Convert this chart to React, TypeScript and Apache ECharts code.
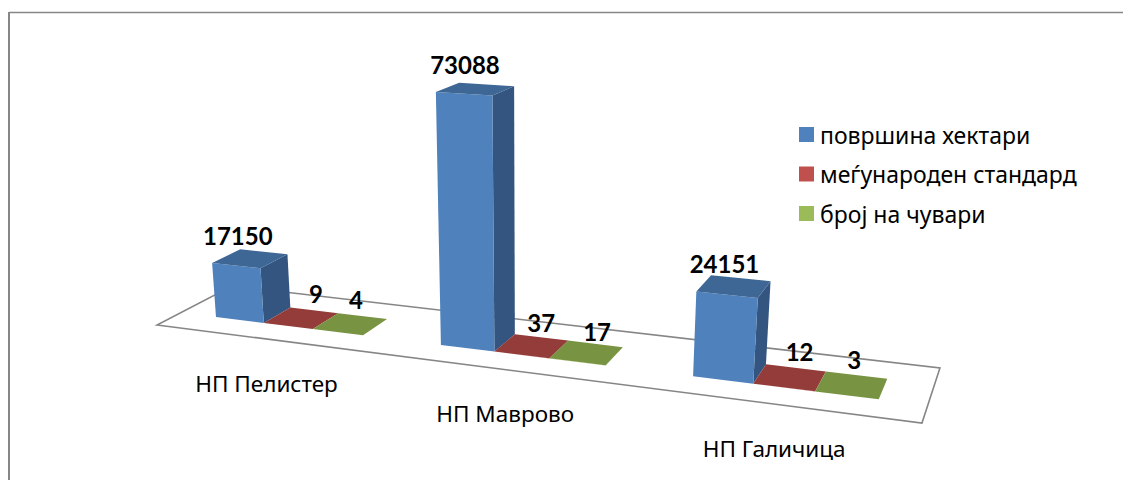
import React, { useEffect, useRef } from "react";
import * as echarts from "echarts";

const categories = ["НП Пелистер", "НП Маврово", "НП Галичица"];
const seriesNames = ["површина хектари", "меѓународен стандард", "број на чувари"];
const area = [17150, 73088, 24151];
const standard = [9, 37, 12];
const guards = [4, 17, 3];
const seriesValues = [area, standard, guards];

const Y_MAX = 80000;

// Face colours of each series: front, top, side.
const faces = [
  { front: "#4F81BD", top: "#3E6795", side: "#33557F" },
  { front: "#C0504D", top: "#933C39", side: "#7A302E" },
  { front: "#9BBB59", top: "#789442", side: "#62783A" },
];

// Projective camera for the skewed chart floor: (u, v) run over the floor, z goes up.
const CAM = {
  a: 613.2, b: 94.65, c: 157,
  d: 28.4, e: -14.8, f: 325,
  g: -0.1646, h: 0.0847,
  i: -0.058, j: -30.6, k: -271.5,
};
function project(u: number, v: number, z: number): number[] {
  const w = CAM.g * u + CAM.h * v + 1 + CAM.i * z;
  return [
    (CAM.a * u + CAM.b * v + CAM.c + CAM.j * z) / w,
    (CAM.d * u + CAM.e * v + CAM.f + CAM.k * z) / w,
  ];
}

const V_FRONT = 0.3;
const V_BACK = 0.68;
const BAR_SHARE = 0.2221; // the three bars' share of the band

// Label nudges from the top-face centre, [series][category].
const labelNudge = [
  [[-12, -23], [-10, -25], [-9, -23]],
  [[15, -25], [10, -24], [10, -26]],
  [[6, -25], [11, -21], [3, -26]],
];
const CAT_LABEL_DROP = 44;
const TEXT_FONT = "Noto Sans";
const NUM_FONT = "Lato";

function makeRenderer(si: number) {
  return (params: any, api: any) => {
    const cat = api.value(0);
    const val = api.value(1);
    const g = params.coordSys;
    const band = api.size([1, 0])[0];
    const cx = api.coord([cat, 0])[0];
    const base = api.coord([cat, 0])[1];
    const z = (base - api.coord([cat, val])[1]) / (base - api.coord([cat, Y_MAX])[1]);
    const bw = (band * BAR_SHARE * 3) / 3 / g.width;
    const uc = (cx - g.x) / g.width;
    const u0 = uc - (bw * 3) / 2 + si * bw;
    const u1 = u0 + bw;
    const fl0 = project(u0, V_FRONT, 0), fr0 = project(u1, V_FRONT, 0), br0 = project(u1, V_BACK, 0);
    const fl = project(u0, V_FRONT, z), fr = project(u1, V_FRONT, z), br = project(u1, V_BACK, z), bl = project(u0, V_BACK, z);
    const c = faces[si];
    const children: any[] = [
      { type: "polygon", shape: { points: [fr0, br0, br, fr] }, style: { fill: c.side } },
      { type: "polygon", shape: { points: [fl0, fr0, fr, fl] }, style: { fill: c.front } },
      { type: "polygon", shape: { points: [fl, fr, br, bl] }, style: { fill: c.top } },
    ];
    const n = labelNudge[si][cat];
    children.push({
      type: "text",
      style: {
        x: (fl[0] + br[0]) / 2 + n[0],
        y: (fl[1] + br[1]) / 2 + n[1],
        text: String(val),
        fill: "#000",
        font: `bold 24px ${NUM_FONT}`,
        textAlign: "center",
        textVerticalAlign: "middle",
      },
    });
    if (si === 0) {
      const p = project(uc, 0, 0);
      children.push({
        type: "text",
        style: {
          x: p[0],
          y: p[1] + CAT_LABEL_DROP,
          text: categories[cat],
          fill: "#000",
          font: `22.5px ${TEXT_FONT}`,
          textAlign: "center",
          textVerticalAlign: "middle",
        },
      });
    }
    return { type: "group", children };
  };
}

function renderFloor() {
  return {
    type: "polygon",
    shape: { points: [project(0, 0, 0), project(1, 0, 0), project(1, 1, 0), project(0, 1, 0)] },
    style: { fill: "#fff", stroke: "#868686", lineWidth: 1.6 },
  };
}

export default function App() {
  const ref = useRef<HTMLDivElement>(null);
  useEffect(() => {
    const chart = echarts.init(ref.current!, null, { renderer: "svg" });
    chart.setOption({
      animation: false,
      backgroundColor: "#fff",
      grid: { left: 157, top: 20, width: 783, height: 300 },
      xAxis: { type: "category", data: categories, show: false },
      yAxis: { type: "value", min: 0, max: Y_MAX, show: false },
      legend: {
        orient: "vertical",
        left: 794,
        top: 118,
        itemWidth: 15,
        itemHeight: 15,
        itemGap: 16.5,
        data: seriesNames,
        icon: "rect",
        textStyle: { fontFamily: TEXT_FONT, fontSize: 23, color: "#000", padding: [0, 0, 0, 1] },
      },
      graphic: [
        { type: "line", shape: { x1: 9, y1: 12.5, x2: 1123, y2: 12.5 }, style: { stroke: "#868686", lineWidth: 1.5 } },
        { type: "line", shape: { x1: 9, y1: 12, x2: 9, y2: 480 }, style: { stroke: "#868686", lineWidth: 2 } },
      ],
      series: [
        { type: "custom", name: "floor", data: [[0, 0]], renderItem: renderFloor, silent: true, clip: false, z: 1 },
        ...seriesNames.map((name, si) => ({
          type: "custom",
          name,
          itemStyle: { color: faces[si].front },
          data: seriesValues[si].map((v, i) => [i, v]),
          renderItem: makeRenderer(si),
          encode: { x: 0, y: 1 },
          clip: false,
          z: 2,
        })),
      ],
    });
    return () => chart.dispose();
  }, []);
  return <div ref={ref} style={{ position: "fixed", left: 0, top: 0, width: 1123, height: 480 }} />;
}
